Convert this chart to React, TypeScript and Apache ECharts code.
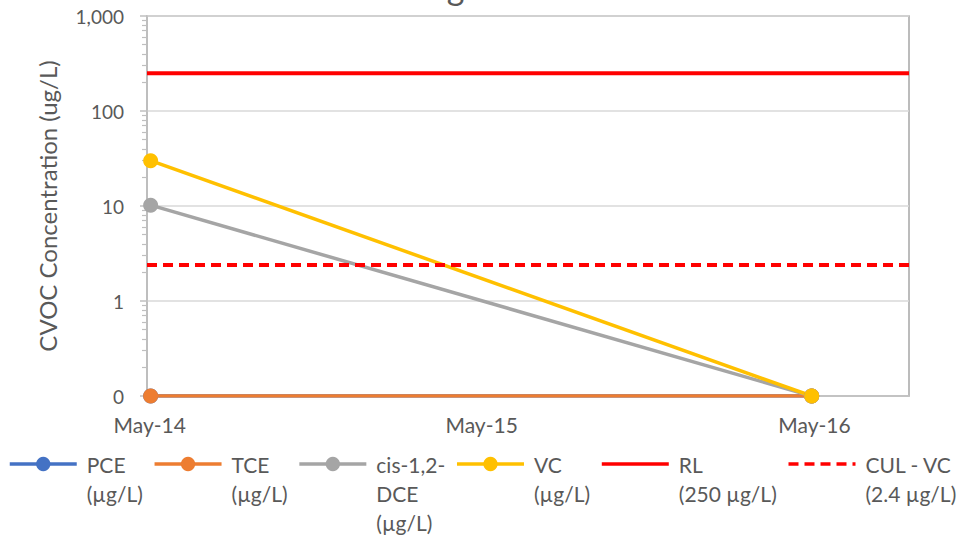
import React, { useEffect, useRef } from "react";
import * as echarts from "echarts";

// Sampling dates and measured concentrations (µg/L)
const SAMPLE_DATES = ["2014-05-02", "2016-04-28"];
const PCE = [0.1, 0.1];
const TCE = [0.1, 0.1];
const CIS_DCE = [10.2, 0.1];
const VC = [30, 0.1];

// Reference levels (µg/L)
const RL_VALUE = 250;
const CUL_VC_VALUE = 2.4;

// Date axis extent and yearly label dates
const AXIS_START = "2014-04-28";
const AXIS_END = "2016-08-13";
const X_LABEL_DATES = ["2014-05-01", "2015-05-01", "2016-05-01"];

// Log axis extent
const Y_MIN = 0.1;
const Y_MAX = 1000;

const SERIES_NAMES = ["PCE", "TCE", "cis-1,2-DCE", "VC", "RL", "CUL - VC"];
const LEGEND_LINES: Record<string, string[]> = {
  PCE: ["PCE", "(µg/L)"],
  TCE: ["TCE", "(µg/L)"],
  "cis-1,2-DCE": ["cis-1,2-", "DCE", "(µg/L)"],
  VC: ["VC", "(µg/L)"],
  RL: ["RL", "(250 µg/L)"],
  "CUL - VC": ["CUL - VC", "(2.4 µg/L)"],
};
const PLAIN_LINE_ITEMS = ["RL", "CUL - VC"];

const MONTHS = ["Jan", "Feb", "Mar", "Apr", "May", "Jun", "Jul", "Aug", "Sep", "Oct", "Nov", "Dec"];

const FONT = "Lato, 'Open Sans', sans-serif";
const TEXT_COLOR = "#595959";
const LEGEND_LH = 29;
const DAY = 86400000;

function ts(d: string): number {
  const [y, m, day] = d.split("-").map(Number);
  return Date.UTC(y, m - 1, day);
}

// x values are days counted from the start of the axis
function dayOf(d: string): number {
  return Math.round((ts(d) - ts(AXIS_START)) / DAY);
}

function monthLabel(dayValue: number): string {
  const d = new Date(ts(AXIS_START) + dayValue * DAY);
  return `${MONTHS[d.getUTCMonth()]}-${String(d.getUTCFullYear()).slice(2)}`;
}

function pairs(values: number[]) {
  return SAMPLE_DATES.map((d, i) => [dayOf(d), values[i]]);
}

function levelLine(v: number) {
  return [
    [dayOf(AXIS_START), v],
    [dayOf(AXIS_END), v],
  ];
}

// Minor tick positions at 2..9 within each decade
function minorTicks(): number[] {
  const out: number[] = [];
  for (let e = -1; e < 3; e++) {
    for (let k = 2; k <= 9; k++) out.push(Number((k * Math.pow(10, e)).toPrecision(6)));
  }
  return out;
}

// Legend text is centred on the icon, so blank lines above keep the first line level with it
function legendText(name: string): string {
  const lines = LEGEND_LINES[name];
  return [...new Array(lines.length - 1).fill(""), ...lines].join("\n");
}

function markerSeries(name: string, values: number[], color: string) {
  return {
    name,
    type: "line",
    data: pairs(values),
    symbol: "circle",
    symbolSize: 15,
    showSymbol: true,
    itemStyle: { color },
    lineStyle: { color, width: 3.5 },
  };
}

export default function App() {
  const ref = useRef<HTMLDivElement>(null);

  useEffect(() => {
    if (!ref.current) return;
    const chart = echarts.init(ref.current, undefined, { renderer: "svg" });

    chart.setOption({
      animation: false,
      backgroundColor: "#ffffff",
      textStyle: { fontFamily: FONT },
      title: {
        text: "Log Scale",
        left: "center",
        top: -36,
        textStyle: { fontSize: 34, fontWeight: "normal", color: TEXT_COLOR, fontFamily: FONT },
      },
      grid: {
        left: 147,
        right: 53,
        top: 16,
        bottom: 143,
        show: true,
        borderColor: "#a6a6a6",
        borderWidth: 1.5,
        outerBoundsMode: "none",
        containLabel: false,
      },
      legend: {
        left: 8,
        top: 391.5,
        padding: 0,
        itemWidth: 67,
        itemHeight: 18,
        itemGap: 10,
        lineStyle: { width: 3.5 },
        textStyle: { fontSize: 21, color: TEXT_COLOR, lineHeight: LEGEND_LH, fontFamily: FONT },
        data: SERIES_NAMES.map((name) =>
          PLAIN_LINE_ITEMS.includes(name)
            ? { name, itemStyle: { opacity: 0 }, textStyle: { padding: [0, 0, 0, 5] } }
            : { name, textStyle: { padding: [0, 0, 0, 5] } }
        ),
        formatter: (name: string) => legendText(name),
      },
      xAxis: {
        type: "value",
        min: dayOf(AXIS_START),
        max: dayOf(AXIS_END),
        axisLine: { show: true, lineStyle: { color: "#bfbfbf", width: 1.5 } },
        axisTick: { show: false },
        splitLine: { show: false },
        axisLabel: {
          customValues: X_LABEL_DATES.map(dayOf),
          formatter: (v: number) => monthLabel(v),
          color: TEXT_COLOR,
          fontSize: 21,
          fontFamily: FONT,
          margin: 18,
          hideOverlap: false,
        },
      },
      yAxis: [
        {
          type: "log",
          logBase: 10,
          min: Y_MIN,
          max: Y_MAX,
          name: "CVOC Concentration (ug/L)",
          nameLocation: "middle",
          nameGap: 88,
          nameTextStyle: { fontSize: 24, color: TEXT_COLOR, fontFamily: FONT },
          axisLine: { show: true, lineStyle: { color: "#bfbfbf", width: 1.5 } },
          axisTick: { show: true, inside: false, length: 7, lineStyle: { color: "#bfbfbf", width: 1.5 } },
          splitLine: { show: true, lineStyle: { color: "#d9d9d9", width: 1.5 } },
          axisLabel: {
            color: TEXT_COLOR,
            fontSize: 19,
            fontFamily: FONT,
            margin: 23,
            formatter: (v: number) => (v < 1 ? "0" : Math.round(v).toLocaleString("en-US")),
          },
        },
        {
          type: "log",
          logBase: 10,
          min: Y_MIN,
          max: Y_MAX,
          position: "left",
          axisLine: { show: false },
          axisLabel: { show: false },
          splitLine: { show: false },
          axisTick: {
            show: true,
            inside: false,
            length: 5,
            customValues: minorTicks(),
            lineStyle: { color: "#bfbfbf", width: 1.2 },
          },
        },
      ],
      series: [
        markerSeries("PCE", PCE, "#4472C4"),
        markerSeries("TCE", TCE, "#ED7D31"),
        markerSeries("cis-1,2-DCE", CIS_DCE, "#A5A5A5"),
        markerSeries("VC", VC, "#FFC000"),
        {
          name: "RL",
          type: "line",
          data: levelLine(RL_VALUE),
          symbol: "none",
          itemStyle: { color: "#FF0000" },
          lineStyle: { color: "#FF0000", width: 4 },
        },
        {
          name: "CUL - VC",
          type: "line",
          data: levelLine(CUL_VC_VALUE),
          symbol: "none",
          itemStyle: { color: "#FF0000" },
          lineStyle: { color: "#FF0000", width: 4, type: [10, 6] },
        },
      ],
    });

    return () => chart.dispose();
  }, []);

  return (
    <div
      ref={ref}
      style={{ position: "fixed", left: 0, top: 0, width: 962, height: 539 }}
    />
  );
}
